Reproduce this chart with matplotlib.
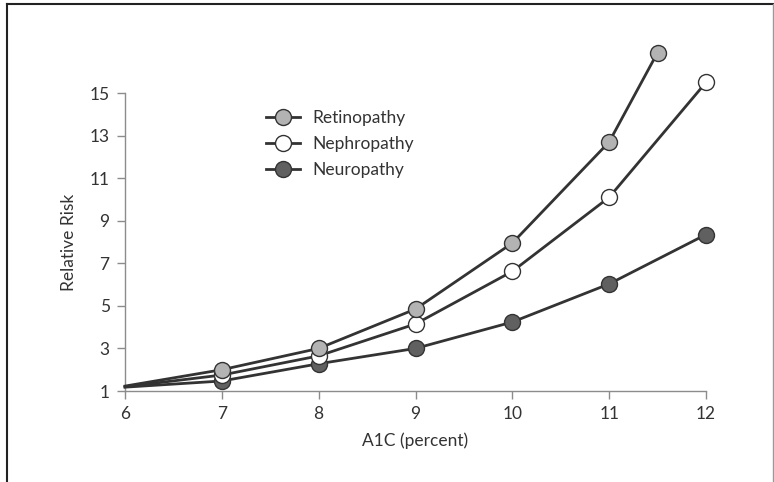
import matplotlib
matplotlib.use('Agg')
import matplotlib.pyplot as plt
from matplotlib.lines import Line2D

plt.rcParams['font.family'] = ['Lato', 'DejaVu Sans']

# values
retino_x = [6, 7, 8, 9, 10, 11, 11.5]
retino_y = [1.23, 2.0, 3.0, 4.85, 7.95, 12.7, 16.9]
nephro_x = [6, 7, 8, 9, 10, 11, 12]
nephro_y = [1.2, 1.75, 2.65, 4.15, 6.62, 10.1, 15.5]
neuro_x = [6, 7, 8, 9, 10, 11, 12]
neuro_y = [1.18, 1.47, 2.28, 3.0, 4.24, 6.03, 8.35]

x_ticks = [6, 7, 8, 9, 10, 11, 12]
y_ticks = [1, 3, 5, 7, 9, 11, 13, 15]

W, H = 774, 482
fig = plt.figure(figsize=(W / 100, H / 100), dpi=100)
ax = fig.add_axes([125 / W, 1 - 391 / H, (706 - 125) / W, (391 - 93) / H])

line_col = '#333333'
series = [
    (retino_x, retino_y, '#b3b3b3', 'Retinopathy'),
    (nephro_x, nephro_y, '#ffffff', 'Nephropathy'),
    (neuro_x, neuro_y, '#606060', 'Neuropathy'),
]
# draw neuropathy first so the lighter markers sit on top, like the original
for xs, ys, fc, lab in reversed(series):
    ax.plot(xs, ys, color=line_col, lw=2.0, marker='o', markersize=11.5,
            markerfacecolor=fc, markeredgecolor=line_col, markeredgewidth=1.0,
            markevery=list(range(1, len(xs))), clip_on=False, label=lab, zorder=3)

ax.set_xlim(6, 12)
ax.set_ylim(1, 15)
ax.set_xticks(x_ticks)
ax.set_yticks(y_ticks)

for side in ['top', 'right']:
    ax.spines[side].set_visible(False)
for side in ['left', 'bottom']:
    ax.spines[side].set_color('#8c8c8c')
    ax.spines[side].set_linewidth(1.0)
ax.tick_params(direction='out', length=6, width=1.0, color='#8c8c8c',
               labelsize=12.5, labelcolor='#333333', pad=5)

ax.set_xlabel('A1C (percent)', fontsize=12.5, color='#333333', labelpad=7)
ax.set_ylabel('Relative Risk', fontsize=12.5, color='#333333', labelpad=9)

labels = [s[3] for s in series]
leg_handles = []
for xs, ys, fc, lab in series:
    leg_handles.append(Line2D([], [], color=line_col, lw=2.0, marker='o', markersize=11.5,
                              markerfacecolor=fc, markeredgecolor=line_col,
                              markeredgewidth=1.0))
leg = ax.legend(leg_handles, labels, loc='upper left', bbox_to_anchor=(0.215, 0.995),
                frameon=False, fontsize=12.5, handlelength=2.0, handletextpad=0.7,
                labelspacing=0.58, labelcolor='#333333')

# outer frame (bottom edge is cut off in the original)
fig.add_artist(Line2D([7 / W, 7 / W], [0, 1 - 4 / H], color='#222222', lw=1.5))
fig.add_artist(Line2D([7 / W, 773 / W], [1 - 4 / H, 1 - 4 / H], color='#222222', lw=1.5))
fig.add_artist(Line2D([773 / W, 773 / W], [0, 1 - 4 / H], color='#999999', lw=1.0))

fig.savefig('out.png', dpi=100)
